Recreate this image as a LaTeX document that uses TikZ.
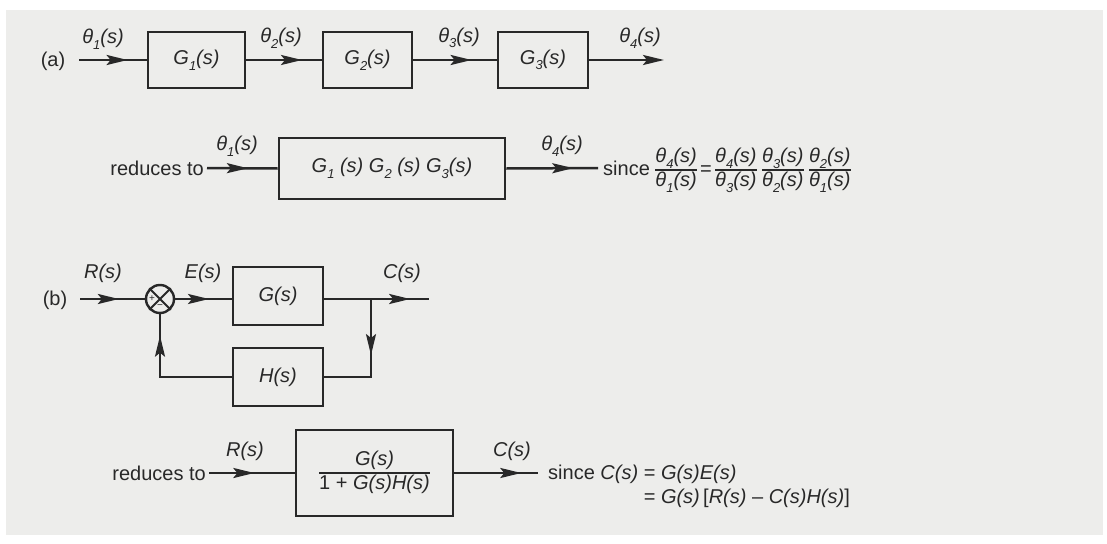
\documentclass[tikz,border=0pt]{standalone}
\usepackage{fontspec}
\setmainfont{Liberation Sans}
\usetikzlibrary{arrows.meta,decorations.markings,calc}

\definecolor{paper}{RGB}{237,237,235}
\definecolor{ink}{RGB}{40,40,40}

% lowered index for signal and block names
\newcommand\lo[1]{\raisebox{-0.28em}{\fontsize{13}{13}\selectfont #1}}
% theta_i(s)
\newcommand\thet[1]{\textit{θ\lo{#1}(s)}}
% stacked fraction with a rule
\newcommand\fr[2]{{\setlength\arrayrulewidth{1.4pt}\renewcommand\arraystretch{0.95}%
  \begin{tabular}[c]{@{}c@{}}#1\\\hline #2\end{tabular}}}

\tikzset{
  blockbox/.style={draw=ink, line width=2.9pt, inner sep=0pt},
  sig/.style={draw=ink, line width=2.5pt},
  tipat/.style={postaction={decorate, decoration={markings,
      mark=at position #1 with {\arrow{Stealth[length=21pt,width=10pt,inset=4pt]}}}}},
  endtip/.style={-{Stealth[length=21pt,width=10pt,inset=4pt]}},
}

\begin{document}
\begin{tikzpicture}[x=1pt,y=-1pt,
  every node/.style={text=ink, font=\fontsize{20}{24}\selectfont, inner sep=0pt}]
\fill[white] (0,0) rectangle (1107,543);
\fill[paper] (6,10) rectangle (1103,535);
\useasboundingbox (0,0) rectangle (1107,543);

% ---------------- (a) three blocks in cascade ----------------
\node (la) at (53,61) {(a)};
\coordinate (ina) at (79,60);
\node[blockbox, minimum width=97pt, minimum height=56pt] (g1) at (196.5,60) {\textit{G\lo{1}(s)}};
\node[blockbox, minimum width=89pt, minimum height=56pt] (g2) at (367.5,60) {\textit{G\lo{2}(s)}};
\node[blockbox, minimum width=90pt, minimum height=56pt] (g3) at (543,60) {\textit{G\lo{3}(s)}};
\coordinate (outa) at (664,60);

\draw[sig, tipat=0.72] (ina) -- (g1.west);
\draw[sig, tipat=0.74] (g1.east) -- (g2.west);
\draw[sig, tipat=0.70] (g2.east) -- (g3.west);
\draw[sig, endtip] (g3.east) -- (outa);

\node (t1) at (103,39) {\thet{1}};
\node (t2) at (281,38) {\thet{2}};
\node (t3) at (459,38) {\thet{3}};
\node (t4) at (640,38) {\thet{4}};

% reduced form
\node[anchor=east] (rta) at (204,168) {reduces to};
\coordinate (ina2) at (207,168);
\node[blockbox, minimum width=226pt, minimum height=61pt] (gall) at (392,168.5)
  {\textit{G\lo{1} (s) G\lo{2} (s) G\lo{3}(s)}};
\coordinate (outa2) at (598,168);
\draw[sig, tipat=0.58] (ina2) -- (gall.west);
\draw[sig, tipat=0.73] (gall.east) -- (outa2);
\node (t1b) at (237,146) {\thet{1}};
\node (t4b) at (562,146) {\thet{4}};
\node[anchor=west] (sa) at (603,170)
  {since \fr{\thet{4}}{\thet{1}}\,=\,\fr{\thet{4}}{\thet{3}} \fr{\thet{3}}{\thet{2}} \fr{\thet{2}}{\thet{1}}};

% ---------------- (b) closed loop ----------------
\node (lb) at (55,300) {(b)};
\coordinate (inb) at (80,299);
\node[draw=ink, line width=2.4pt, circle, minimum size=28pt] (sum) at (160,299) {};
\draw[ink, line width=2pt] (sum.north west) -- (sum.south east)
                           (sum.north east) -- (sum.south west);
\node[font=\fontsize{10}{10}\selectfont] (pl) at ($(sum.center)+(-8,0)$) {+};
\node[font=\fontsize{10}{10}\selectfont] (mi) at ($(sum.center)+(0,8)$) {−};
\node[blockbox, minimum width=90pt, minimum height=58pt] (g) at (278,296) {\textit{G(s)}};
\node[blockbox, minimum width=90pt, minimum height=58pt] (h) at (278,377) {\textit{H(s)}};
\coordinate (j) at (371,299);
\coordinate (outb) at (429,299);

\draw[sig, tipat=0.6] (inb) -- (sum.west);
\draw[sig, tipat=0.6] (sum.east) -- (sum.east -| g.west);
\draw[sig, tipat=0.82] (g.east |- j) -- (outb);
\draw[sig, tipat=0.45] (j) |- (h.east);
\draw[sig, tipat=0.84] (h.west) -| (sum.south);

\node (rs) at (103,273) {\textit{R(s)}};
\node (es) at (203,273) {\textit{E(s)}};
\node (cs) at (402,273) {\textit{C(s)}};

% reduced form
\node[anchor=east] (rtb) at (206,473) {reduces to};
\coordinate (inb2) at (209,473);
\node[blockbox, minimum width=157pt, minimum height=86pt] (cl) at (374.5,473)
  {\fr{\textit{G(s)}}{1 + \textit{G(s)H(s)}}};
\coordinate (outb2) at (538,473);
\draw[sig, tipat=0.53] (inb2) -- (cl.west);
\draw[sig, tipat=0.8] (cl.east) -- (outb2);
\node (rs2) at (245,451) {\textit{R(s)}};
\node (cs2) at (512,451) {\textit{C(s)}};
\node[anchor=base west] (sb) at (548,479)
  {\begin{tabular}[t]{@{}r@{\ }l@{}}
     since \textit{C(s)} & = \textit{G(s)E(s)}\\
                         & = \textit{G(s)}\,[\textit{R(s)} – \textit{C(s)H(s)}]
   \end{tabular}};
\end{tikzpicture}
\end{document}
